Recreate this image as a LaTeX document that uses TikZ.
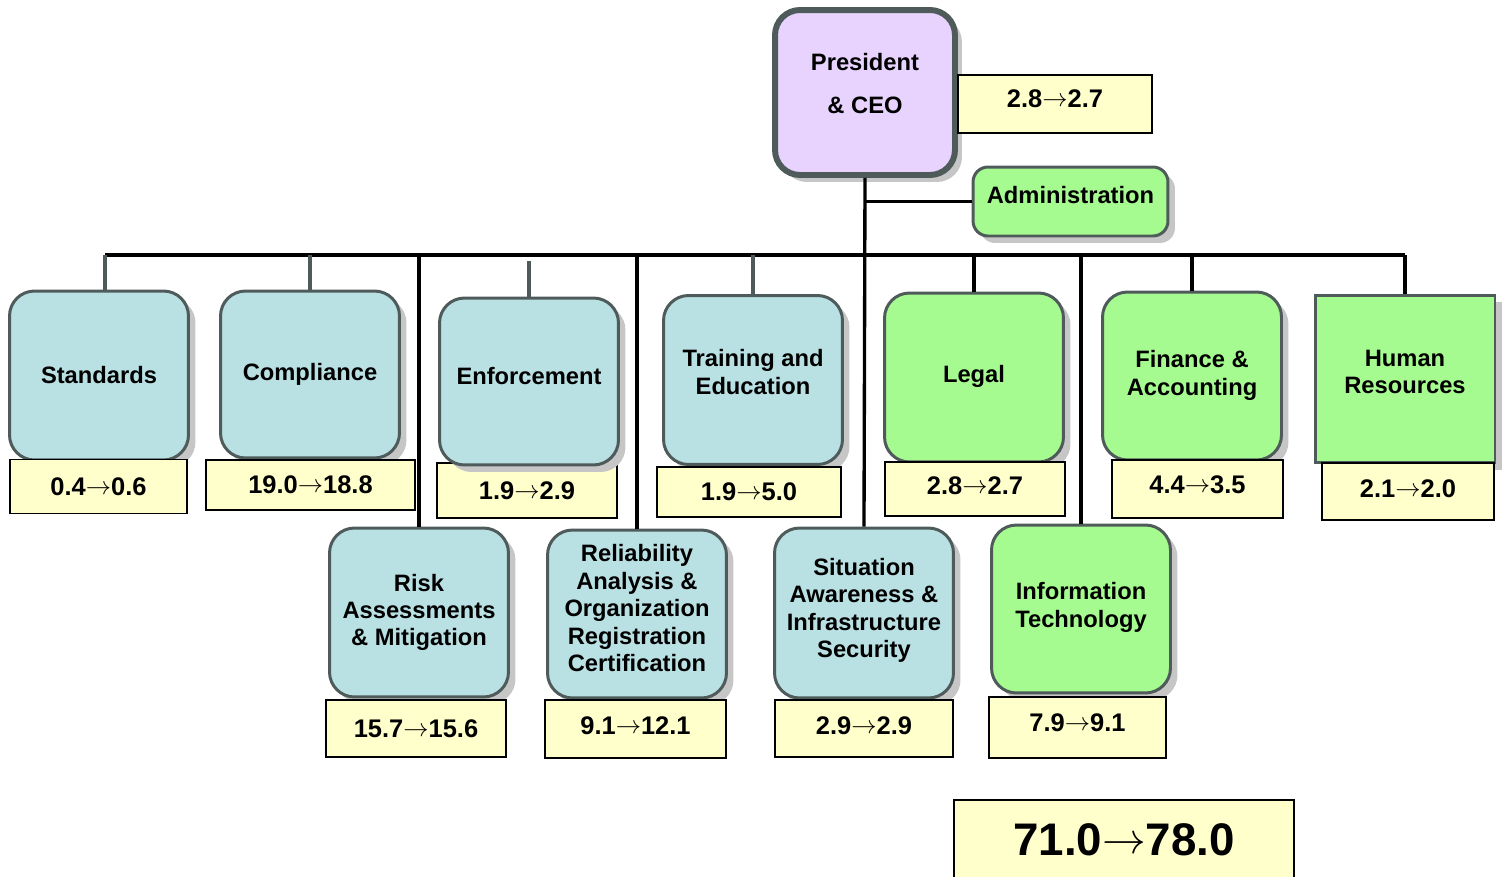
\documentclass[tikz,border=0pt]{standalone}
\usepackage{fontspec}
\setmainfont{Liberation Sans}
\usetikzlibrary{shadows}

\definecolor{deptblue}{HTML}{B9E0E3}
\definecolor{deptgreen}{HTML}{A6FB90}
\definecolor{ceopurple}{HTML}{E8D3FE}
\definecolor{valyellow}{HTML}{FFFFCC}
\definecolor{edgegray}{HTML}{4F5B5B}
\definecolor{shadowgray}{HTML}{C6C6C6}

\newcommand{\chg}{\raisebox{0.05em}{$\rightarrow$}}

\begin{document}
\begin{tikzpicture}[
        x=0.02cm, y=-0.02cm,
        dept/.style={
            draw=edgegray, line width=1.7pt, rounded corners=0.5cm,
            align=center, inner sep=2pt,
            font=\fontsize{13.5}{15.6}\selectfont\bfseries,
            minimum width=3.58cm, minimum height=3.38cm,
            drop shadow={shadow xshift=0.14cm, shadow yshift=-0.14cm,
                fill=shadowgray, opacity=1}
        },
        bluedept/.style={dept, fill=deptblue},
        greendept/.style={dept, fill=deptgreen},
        valbox/.style={
            draw=black, line width=0.8pt, fill=valyellow, inner sep=0pt,
            minimum width=3.6cm, minimum height=1.08cm,
            font=\fontsize{14.5}{16}\selectfont\bfseries
        },
        lift/.style={execute at end node={\rule[-#1]{0pt}{0pt}}},
        bus/.style={line width=1.9pt},
        graystub/.style={line width=2pt, color=edgegray}
    ]
    \useasboundingbox (0,0) rectangle (1505,876);

    % top
    \node[dept, fill=ceopurple, line width=3.4pt, minimum width=3.6cm,
        minimum height=3.3cm, lift=0.36cm] (ceo) at (865,92.5) {President\\[0.31cm]\& CEO};
    \node[valbox, minimum width=3.88cm, minimum height=1.16cm, lift=0.2cm] (ceoval) at (1055,104) {2.8\chg2.7};
    \node[greendept, rounded corners=0.3cm, minimum width=3.9cm,
        minimum height=1.38cm, lift=0.28cm] (admin) at (1070.5,201.5) {Administration};

    % first row
    \node[bluedept] (std) at (99,375.5) {Standards};
    \node[valbox, minimum width=3.54cm] (stdval) at (98.5,486.5) {0.4\chg0.6};
    \node[bluedept, minimum height=3.34cm] (comp) at (310,374.5) {Compliance};
    \node[valbox, minimum width=4.18cm, minimum height=1cm] (compval) at (310.5,485) {19.0\chg18.8};
    \node[valbox, minimum height=1.1cm] (enfval) at (527,490.5) {1.9\chg2.9};
    \node[bluedept, minimum height=3.34cm, lift=0.24cm] (enf) at (529,381.5) {Enforcement};
    \node[bluedept, lift=0.32cm] (train) at (753,380) {Training and\\Education};
    \node[valbox, minimum width=3.68cm, minimum height=1cm] (trainval) at (749,492) {1.9\chg5.0};
    \node[greendept, lift=0.16cm] (legal) at (974,377.5) {Legal};
    \node[valbox, lift=0.12cm] (legalval) at (975,489) {2.8\chg2.7};
    \node[greendept, minimum height=3.36cm, lift=0.12cm] (fin) at (1192,376) {Finance \&\\Accounting};
    \node[valbox, minimum width=3.42cm, minimum height=1.16cm, lift=0.16cm] (finval) at (1197.5,489) {4.4\chg3.5};
    \node[greendept, rounded corners=0pt, minimum width=3.6cm,
        minimum height=3.36cm, lift=0.28cm] (hr) at (1405,379) {Human\\Resources};
    \node[valbox, minimum width=3.44cm, minimum height=1.14cm, lift=0.12cm] (hrval) at (1408,491.5) {2.1\chg2.0};

    % second row
    \node[bluedept] (risk) at (419,612.5) {Risk\\Assessments\\\& Mitigation};
    \node[valbox, minimum height=1.14cm] (riskval) at (416,728.5) {15.7\chg15.6};
    \node[bluedept, minimum height=3.36cm, lift=0.24cm] (rel) at (637,614) {Reliability\\Analysis \&\\Organization\\Registration\\Certification};
    \node[valbox, minimum width=3.62cm, minimum height=1.16cm, lift=0.12cm] (relval) at (635.5,729) {9.1\chg12.1};
    \node[bluedept, minimum height=3.4cm, lift=0.2cm] (sit) at (864,613) {Situation\\Awareness \&\\Infrastructure\\Security};
    \node[valbox, minimum width=3.56cm, minimum height=1.14cm, lift=0.12cm] (sitval) at (864,728.5) {2.9\chg2.9};
    \node[greendept, minimum height=3.36cm, lift=0.16cm] (it) at (1081,609) {Information\\Technology};
    \node[valbox, minimum width=3.54cm, minimum height=1.22cm, lift=0.2cm] (itval) at (1077.5,727.5) {7.9\chg9.1};

    \node[valbox, minimum width=6.8cm, minimum height=1.6cm,
        font=\fontsize{26}{30}\selectfont\bfseries] (total) at (1124,840) {71.0\chg78.0};

    % lines
    \coordinate (busL) at (105,255);
    \coordinate (busR) at (1405,255);
    \draw[bus] (busL) -- (busR);
    \draw[bus] (ceo.south) -- (sit.north);
    \draw[bus] (admin.west) -- (admin.west -| ceo.south);
    \draw[graystub] (busL) -- (busL |- std.north);
    \draw[graystub] (comp.north) -- (comp.north |- busL);
    \draw[graystub] (enf.north) -- ++(0,-36);
    \draw[graystub] (train.north) -- (train.north |- busL);
    \draw[bus] (legal.north) -- (legal.north |- busL);
    \draw[bus] (fin.north) -- (fin.north |- busL);
    \draw[bus] (hr.north) -- (hr.north |- busL);
    \draw[bus] (risk.north) -- (risk.north |- busL);
    \draw[bus] (rel.north) -- (rel.north |- busL);
    \draw[bus] (it.north) -- (it.north |- busL);
\end{tikzpicture}
\end{document}
